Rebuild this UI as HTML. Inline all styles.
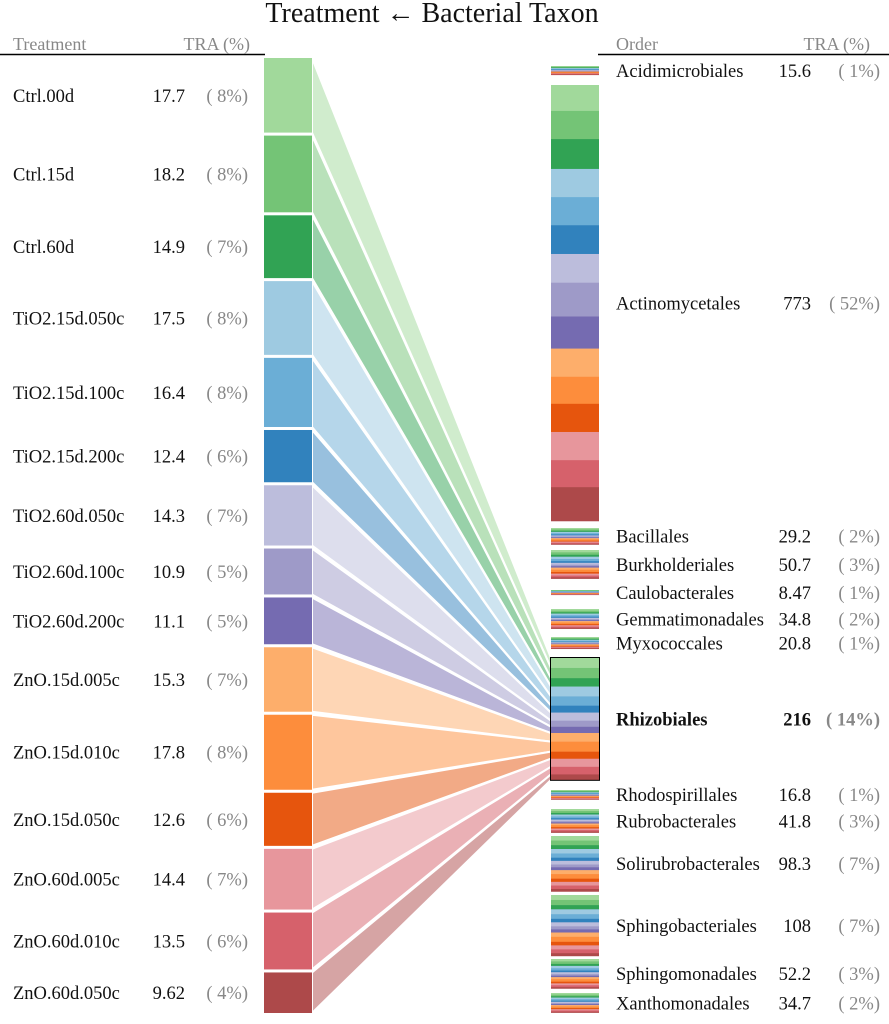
<!DOCTYPE html>
<html><head><meta charset="utf-8">
<style>
html,body{margin:0;padding:0;background:#fff;}
svg{display:block;font-family:"Liberation Serif",serif;}
</style></head>
<body>
<svg id="chart" width="889" height="1024" viewBox="0 0 889 1024" xmlns="http://www.w3.org/2000/svg">
<text x="432" y="22" font-size="28" text-anchor="middle" fill="#111">Treatment ← Bacterial Taxon</text>
<g>
<text x="13" y="50" font-size="18" fill="#888">Treatment</text>
<text x="250" y="50" font-size="18" fill="#888" text-anchor="end">TRA (%)</text>
<line x1="0" y1="54.5" x2="265" y2="54.5" stroke="#000" stroke-width="1.5"/>
</g>
<g>
<text x="616" y="50" font-size="18" fill="#888">Order</text>
<text x="870" y="50" font-size="18" fill="#888" text-anchor="end">TRA (%)</text>
<line x1="598" y1="54.5" x2="889" y2="54.5" stroke="#000" stroke-width="1.5"/>
</g>
<g id="ribbons"></g>
<g id="left"></g>
<g id="right"></g>
</svg>
<script>
const treatments = ["Ctrl.00d","Ctrl.15d","Ctrl.60d","TiO2.15d.050c","TiO2.15d.100c","TiO2.15d.200c","TiO2.60d.050c","TiO2.60d.100c","TiO2.60d.200c","ZnO.15d.005c","ZnO.15d.010c","ZnO.15d.050c","ZnO.60d.005c","ZnO.60d.010c","ZnO.60d.050c"];
const treatmentValues = [17.7,18.2,14.9,17.5,16.4,12.4,14.3,10.9,11.1,15.3,17.8,12.6,14.4,13.5,9.62];
const treatmentPct = ["8","8","7","8","8","6","7","5","5","7","8","6","7","6","4"];
const orders = ["Acidimicrobiales","Actinomycetales","Bacillales","Burkholderiales","Caulobacterales","Gemmatimonadales","Myxococcales","Rhizobiales","Rhodospirillales","Rubrobacterales","Solirubrobacterales","Sphingobacteriales","Sphingomonadales","Xanthomonadales"];
const orderValues = [15.6,773,29.2,50.7,8.47,34.8,20.8,216,16.8,41.8,98.3,108,52.2,34.7];
const orderValueLabels = ["15.6","773","29.2","50.7","8.47","34.8","20.8","216","16.8","41.8","98.3","108","52.2","34.7"];
const orderPct = ["1","52","2","3","1","2","1","14","1","3","7","7","3","2"];
const actinoShares = [46,50,53,50,50,51,51,60,57,50,48,50,50,48,60];
const colors = ["#a1d99b","#74c476","#31a354","#9ecae1","#6baed6","#3182bd","#bcbddc","#9e9ac8","#756bb1","#fdae6b","#fd8d3c","#e6550d","#e7969c","#d6616b","#ad494a"];
const focusIndex = 7;
// layout
const orderTops = [66,85,528,550,590,609,637,658,790,809,836,895,959,993];
const NS="http://www.w3.org/2000/svg";
function mk(tag,attrs,parent){const e=document.createElementNS(NS,tag);for(const k in attrs)e.setAttribute(k,attrs[k]);parent.appendChild(e);return e;}
const leftG=document.getElementById('left'), rightG=document.getElementById('right'), ribG=document.getElementById('ribbons');
const LX=264, LW=48, RX=551, RW=48, ltop=58, lbot=1013, gap=3;
const FS=18.5;
const lsum=treatmentValues.reduce((a,b)=>a+b,0);
const lk=(lbot-ltop-gap*(treatmentValues.length-1))/lsum;
const rk=0.564;
const rSeg=[];
orders.forEach((o,i)=>{
  const h=orderValues[i]*rk, top=orderTops[i];
  const shares = i===1?actinoShares:treatmentValues;
  const ssum=shares.reduce((a,b)=>a+b,0);
  let y=top;
  const g=mk('g',{},rightG);
  
  
  shares.forEach((s,j)=>{
    const sh=s/ssum*h;
    const r=mk('rect',{x:RX,y:y,width:RW,height:sh+0.3,fill:colors[j]},g);
    
    
    if(i===focusIndex) rSeg.push([y,y+sh]);
    y+=sh;
  });
  if(i===focusIndex){
    const b=mk('rect',{x:RX-0.5,y:top-0.5,width:RW+1,height:h+1,fill:'none',stroke:'#000','stroke-width':1},g);
    
    
  }
  const cy=top+h/2+6.5;
  const bold=i===focusIndex?'bold':'normal';
  const t1=mk('text',{x:616,y:cy,'font-size':FS,fill:'#111','font-weight':bold},rightG);
  t1.textContent=o;
  
  
  const t2=mk('text',{x:811,y:cy,'font-size':FS,fill:'#111','text-anchor':'end','font-weight':bold},rightG);
  t2.textContent=orderValueLabels[i];
  
  
  const t3=mk('text',{x:880,y:cy,'font-size':FS,fill:'#888','text-anchor':'end','font-weight':bold},rightG);
  t3.textContent='( '+orderPct[i]+'%)';
  
  
});
let y=ltop;
treatments.forEach((t,j)=>{
  const h=treatmentValues[j]*lk;
  const rs=rSeg[j];
  const p=mk('path',{d:`M${LX+LW},${y} L${RX},${rs[0]} L${RX},${rs[1]} L${LX+LW},${y+h} Z`,fill:colors[j],'fill-opacity':0.5,stroke:'#fff','stroke-width':2},ribG);
  
  
  const r=mk('rect',{x:LX,y:y,width:LW,height:h,fill:colors[j]},leftG);
  
  
  const cy=y+h/2+6.5;
  const a=mk('text',{x:13,y:cy,'font-size':FS,fill:'#111'},leftG);
  a.textContent=t;
  
  
  const b=mk('text',{x:185,y:cy,'font-size':FS,fill:'#111','text-anchor':'end'},leftG);
  b.textContent=String(treatmentValues[j]);
  
  
  const c=mk('text',{x:248,y:cy,'font-size':FS,fill:'#888','text-anchor':'end'},leftG);
  c.textContent='( '+treatmentPct[j]+'%)';
  
  
  y+=h+gap;
});
</script>
</body></html>
